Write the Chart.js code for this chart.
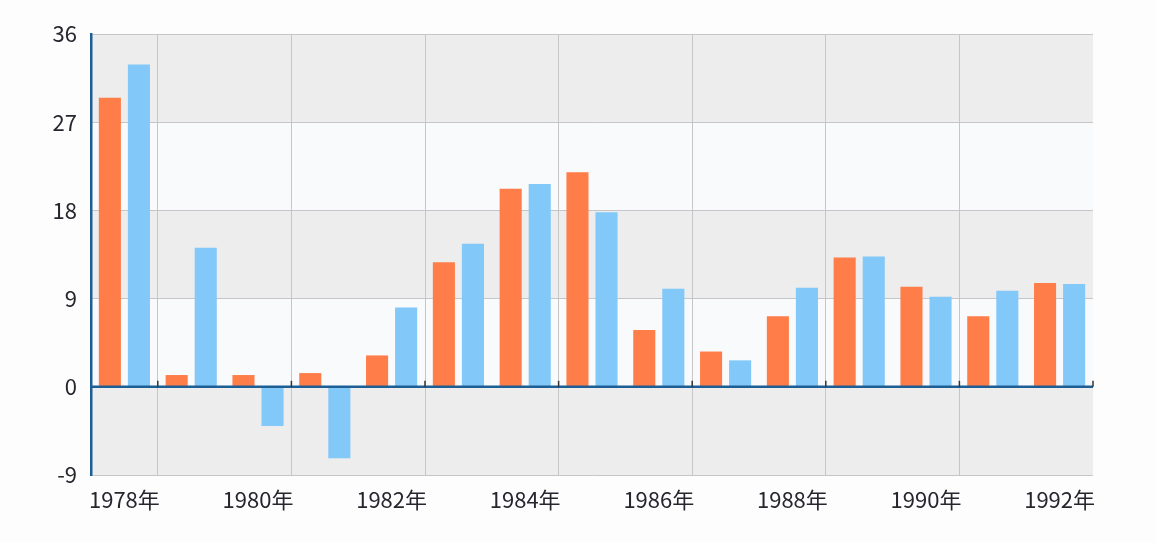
<!DOCTYPE html>
<html>
<head>
<meta charset="utf-8">
<script src="https://cdn.jsdelivr.net/npm/chart.js@4"></script>
<style>
  body { margin: 0; background: #fdfdfe; }
  #wrap { width: 1156px; height: 543px; }
</style>
</head>
<body>
<div id="wrap"><canvas id="chart"></canvas></div>
<script>
var YEARS = ['1978年','1979年','1980年','1981年','1982年','1983年','1984年','1985年',
  '1986年','1987年','1988年','1989年','1990年','1991年','1992年'];
var ORANGE_VALUES = [29.5, 1.2, 1.2, 1.4, 3.2, 12.7, 20.2, 21.9, 5.8, 3.6, 7.2, 13.2, 10.2, 7.2, 10.6];
var BLUE_VALUES = [32.9, 14.2, -4.0, -7.3, 8.1, 14.6, 20.7, 17.8, 10.0, 2.7, 10.1, 13.3, 9.2, 9.8, 10.5];
var Y_TICKS = [-9, 0, 9, 18, 27, 36];

// alternating horizontal bands behind the bars
const bands = {
  id: 'bands',
  beforeDraw(chart) {
    const c = chart.ctx, a = chart.chartArea, y = chart.scales.y;
    for (let i = 0; i < Y_TICKS.length - 1; i++) {
      const top = y.getPixelForValue(Y_TICKS[i + 1]);
      const bot = y.getPixelForValue(Y_TICKS[i]);
      c.fillStyle = (i % 2 === 0) ? '#ededee' : '#f9fafc';
      c.fillRect(a.left, top, a.right - a.left, bot - top);
    }
  },
  afterDatasetsDraw(chart) {
    // zero line and little tick marks on it
    const c = chart.ctx, a = chart.chartArea, y = chart.scales.y;
    const y0 = y.getPixelForValue(0);
    c.save();
    c.strokeStyle = '#1d5f94';
    c.lineWidth = 2.5;
    c.beginPath();
    c.moveTo(a.left, y0);
    c.lineTo(a.right, y0);
    c.stroke();
    c.lineWidth = 1.5;
    c.strokeStyle = '#333';
    const w = (a.right - a.left) / YEARS.length;
    for (let i = 1; i <= YEARS.length; i += 2) {
      const px = a.left + i * w;
      c.beginPath();
      c.moveTo(px, y0 - 6);
      c.lineTo(px, y0);
      c.stroke();
    }
    c.restore();
  }
};

new Chart(document.getElementById('chart'), {
  type: 'bar',
  data: {
    labels: YEARS,
    datasets: [{
      label: '系列1',
      data: ORANGE_VALUES,
      backgroundColor: '#ff7d48',
      categoryPercentage: 0.87,
      barPercentage: 0.76
    }, {
      label: '系列2',
      data: BLUE_VALUES,
      backgroundColor: '#82c8f8',
      categoryPercentage: 0.87,
      barPercentage: 0.76
    }]
  },
  options: {
    responsive: true,
    maintainAspectRatio: false,
    animation: false,
    layout: { padding: { top: 34, right: 63, left: 0, bottom: 0 } },
    plugins: {
      legend: { display: false },
      tooltip: { enabled: false }
    },
    scales: {
      x: {
        offset: true,
        afterFit(s) { s.height = 68; },
        border: { display: false },
        grid: {
          offset: true,
          drawTicks: false,
          color: ctx => (ctx.index % 2 === 1) ? '#c6c6c8' : 'rgba(0,0,0,0)',
          lineWidth: 1
        },
        ticks: {
          autoSkip: false,
          maxRotation: 0,
          padding: 11,
          color: '#26262e',
          font: { family: '"Noto Sans CJK SC", "Noto Sans", sans-serif', size: 22 },
          callback: function (v, i) { return i % 2 === 0 ? YEARS[i] : ''; }
        }
      },
      y: {
        min: -9,
        max: 36,
        afterFit(s) { s.width = 91; },
        afterBuildTicks(s) { s.ticks = Y_TICKS.map(v => ({ value: v })); },
        border: { display: true, color: '#1d5f94', width: 2.5 },
        grid: {
          drawTicks: false,
          color: '#c6c6c8',
          lineWidth: 1
        },
        ticks: {
          padding: 14,
          color: '#26262e',
          font: { family: '"Noto Sans CJK SC", "Noto Sans", sans-serif', size: 22 }
        }
      }
    }
  },
  plugins: [bands]
});
</script>
</body>
</html>
